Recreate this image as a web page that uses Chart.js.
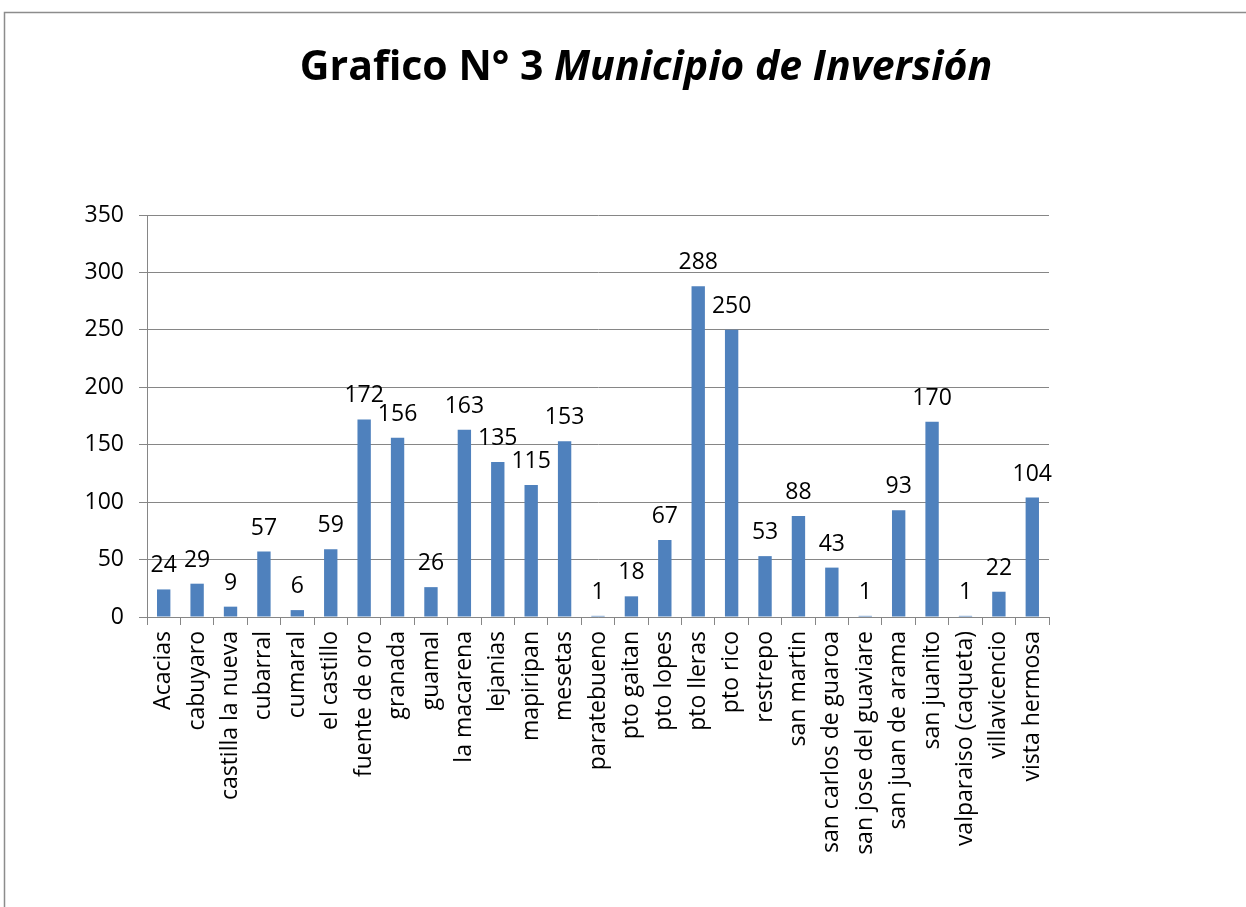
<!DOCTYPE html>
<html>
<head>
<meta charset="utf-8">
<script src="https://cdn.jsdelivr.net/npm/chart.js@4/dist/chart.umd.min.js"></script>
<style>
  html, body { margin: 0; padding: 0; background: #fff; }
  #wrap { width: 1246px; height: 907px; position: relative; }
</style>
</head>
<body>
<div id="wrap"><canvas id="canvas"></canvas></div>
<script>
const municipios = [
  "Acacias", "cabuyaro", "castilla la nueva", "cubarral", "cumaral",
  "el castillo", "fuente de oro", "granada", "guamal", "la macarena",
  "lejanias", "mapiripan", "mesetas", "paratebueno", "pto gaitan",
  "pto lopes", "pto lleras", "pto rico", "restrepo", "san martin",
  "san carlos de guaroa", "san jose del guaviare", "san juan de arama",
  "san juanito", "valparaiso (caqueta)", "villavicencio", "vista hermosa"
];
const inversion = [
  24, 29, 9, 57, 6, 59, 172, 156, 26, 163, 135, 115, 153, 1, 18,
  67, 288, 250, 53, 88, 43, 1, 93, 170, 1, 22, 104
];
const yTicks = [0, 50, 100, 150, 200, 250, 300, 350];

const FONT = "'Open Sans', 'Noto Sans', sans-serif";
const GRID = "#868686";

// frame + title drawn by hand (title mixes bold and bold italic)
const frameTitle = {
  id: "frameTitle",
  beforeDraw(chart) {
    const ctx = chart.ctx;
    ctx.save();
    ctx.fillStyle = "#fff";
    ctx.fillRect(0, 0, chart.width, chart.height);
    ctx.strokeStyle = "#8c8c8c";
    ctx.lineWidth = 1.5;
    ctx.strokeRect(4.5, 12.5, 1400, 1000);
    ctx.restore();
  },
  afterDraw(chart) {
    const ctx = chart.ctx;
    ctx.save();
    const a = "Grafico N° 3 ";
    const b = "Municipio de Inversión";
    const fa = "bold 41px " + FONT;
    const fb = "italic bold 41px " + FONT;
    ctx.font = fa;
    const wa = ctx.measureText(a).width;
    ctx.font = fb;
    const wb = ctx.measureText(b).width;
    let x = 646 - (wa + wb) / 2;
    ctx.fillStyle = "#000";
    ctx.textBaseline = "alphabetic";
    ctx.font = fa;
    ctx.fillText(a, x, 80);
    ctx.font = fb;
    ctx.fillText(b, x + wa, 80);
    ctx.restore();
  }
};

const valueLabels = {
  id: "valueLabels",
  afterDatasetsDraw(chart) {
    const ctx = chart.ctx;
    const meta = chart.getDatasetMeta(0);
    ctx.save();
    ctx.font = "23px " + FONT;
    ctx.fillStyle = "#000";
    ctx.textAlign = "center";
    ctx.textBaseline = "alphabetic";
    meta.data.forEach((bar, i) => {
      ctx.fillText(String(inversion[i]), bar.x, bar.y - 17);
    });
    ctx.restore();
  }
};

new Chart(document.getElementById("canvas").getContext("2d"), {
  type: "bar",
  data: {
    labels: municipios,
    datasets: [{
      label: "Inversión",
      data: inversion,
      backgroundColor: "#4F81BD",
      borderWidth: 0,
      barPercentage: 0.4,
      categoryPercentage: 1
    }]
  },
  options: {
    responsive: true,
    maintainAspectRatio: false,
    animation: false,
    layout: { padding: { left: 20, right: 197, top: 215, bottom: 0 } },
    plugins: {
      legend: { display: false },
      title: { display: false },
      tooltip: { enabled: false }
    },
    scales: {
      x: {
        afterFit(scale) { scale.height = 290; },
        grid: {
          offset: true,
          drawOnChartArea: false,
          drawTicks: true,
          tickLength: 8,
          color: GRID,
          lineWidth: 1
        },
        border: { color: GRID, width: 1 },
        ticks: {
          minRotation: 90,
          maxRotation: 90,
          autoSkip: false,
          padding: 6,
          color: "#000",
          font: { family: FONT, size: 23 }
        }
      },
      y: {
        min: 0,
        max: 350,
        afterFit(scale) { scale.width = 127; },
        afterBuildTicks(scale) { scale.ticks = yTicks.map(v => ({ value: v })); },
        grid: {
          color: GRID,
          lineWidth: 1,
          drawTicks: true,
          tickLength: 8
        },
        border: { color: GRID, width: 1 },
        ticks: {
          padding: 15,
          color: "#000",
          font: { family: FONT, size: 23 }
        }
      }
    }
  },
  plugins: [frameTitle, valueLabels]
});
</script>
</body>
</html>
